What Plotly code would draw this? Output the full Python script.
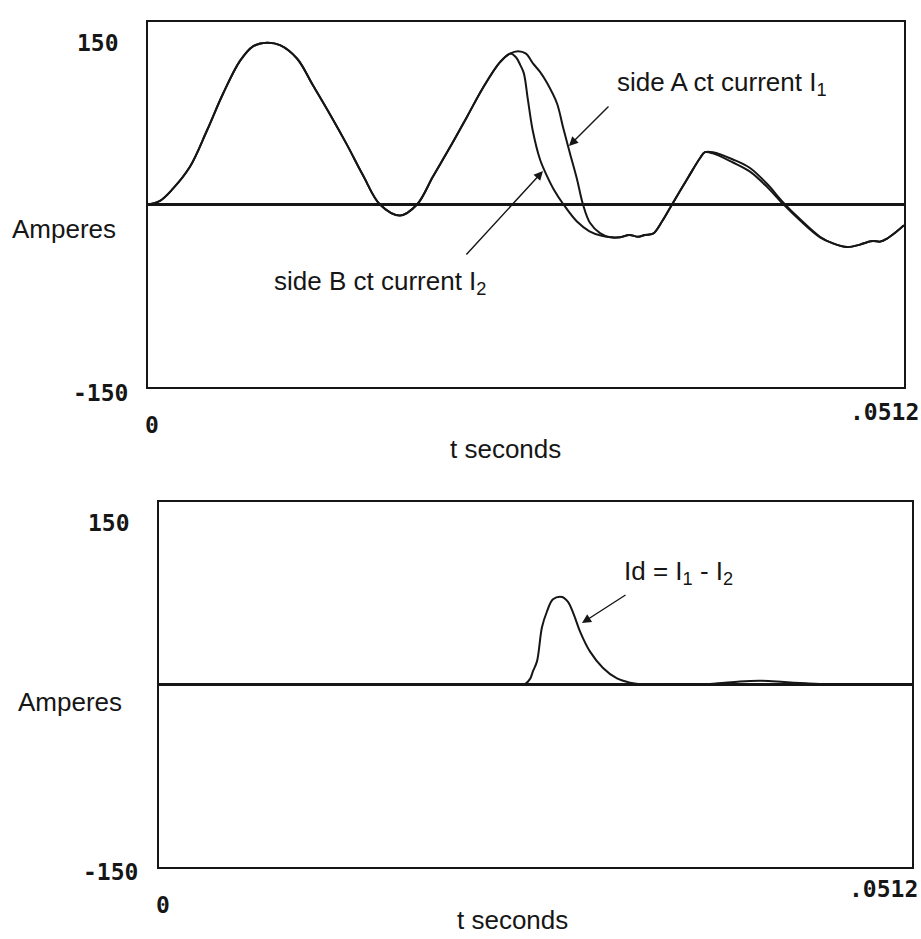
import numpy as np
import plotly.graph_objects as go

W, H = 921, 939

# ---------------- data (time in ms, current in A) ----------------
# part shared by both CT currents (before saturation of side B)
t_shared = [0, 0.81, 1.69, 2.84, 4.00, 5.08, 6.23, 7.11, 8.06, 8.94, 10.09, 11.17,
            12.33, 13.48, 14.56, 15.71, 17.07, 18.22, 19.30, 20.45, 21.60, 22.69,
            23.84, 24.52]
i_shared = [0, 3, 13, 31, 61, 91, 118, 130, 133, 131, 120, 98,
            74, 49, 24, 0, -9, 0, 23, 47, 72, 96,
            117, 124]

# side A (I1) second peak and fall
t_a_fall = [25.06, 25.6, 26.07, 26.55, 27.02, 27.70, 28.10, 28.58, 29.05, 29.46,
            29.93, 30.61, 31.29]
i_a_fall = [126, 124, 116, 109, 100, 83, 64, 42, 21, 0,
            -15, -23.5, -27]

# side B (I2) saturated fall
t_b_fall = [24.92, 25.2, 25.45, 25.73, 26.07, 26.55, 27.0, 27.5, 28.2, 29.05,
            29.9, 30.8, 31.5]
i_b_fall = [121, 115, 108, 86, 60, 37, 24, 12, -1, -14,
            -22, -26, -27]

# shared trough and third rise
t_trough = [31.96, 32.6, 33.2, 33.66, 34.2, 34.81, 35.49, 36.57, 37.38, 37.72]
i_trough = [-27, -25, -26.5, -25, -24, -14, 0, 22, 38, 43]

# third hump decline
t_hump = [38.26, 39.62, 40.77, 41.92, 43.0, 44.15, 45.51]
i_a_hump = [43, 37, 30, 17, 2, -12, -26.5]
i_b_hump = [42, 34.5, 27, 14.5, 0.5, -13, -27]

# shared tail
t_tail = [46.39, 47.34, 48.22, 48.7, 49.1, 49.6, 50.05, 50.72, 51.2]
i_tail = [-32, -35, -33, -31, -30, -30.5, -28, -22, -17]

# differential current Id = I1 - I2 (lower plot)
t_id = [0, 8, 16, 22, 24.5, 24.9, 25.23, 25.43, 25.70, 26.04, 26.38, 26.79, 27.40,
        27.81, 28.22, 28.63, 29.31, 30.19, 31.14, 32.03, 32.7, 34.0, 36.5, 38.0,
        39.5, 41.0, 42.5, 44.0, 45.5, 47.0, 49.0, 51.2]
i_id = [0, 0, 0, 0, 0, 0.5, 4.6, 11, 19, 47, 60, 70, 72,
        68, 57, 43.5, 27, 13.6, 5, 1.5, 0.3, 0, 0, 1,
        2.5, 3, 2, 1, 0.3, 0.3, 0.3, 0.3]

t_end = 0.0512
y_labels = ["150", "-150"]
x_labels = ["0", ".0512"]

# ---------------- assemble series ----------------
t1 = np.array(t_shared + t_a_fall + t_trough + t_hump + t_tail) / 1000.0
i1 = np.array(i_shared + i_a_fall + i_trough + i_a_hump + i_tail)
t2 = np.array(t_shared + t_b_fall + t_trough + t_hump + t_tail) / 1000.0
i2 = np.array(i_shared + i_b_fall + i_trough + i_b_hump + i_tail)
td = np.array(t_id) / 1000.0
idf = np.array(i_id)

INK = "#161616"
TXT = "Liberation Sans, Arial, Helvetica, sans-serif"
NUM = "DejaVu Sans Mono, monospace"

def px(x):
    return x / W

def py(y):
    return 1 - y / H

fig = go.Figure()
line = dict(color=INK, width=2, shape="spline", smoothing=1.0)
fig.add_trace(go.Scatter(x=t1, y=i1, mode="lines", line=line, xaxis="x", yaxis="y",
                         name="side A ct current I1", hoverinfo="skip"))
fig.add_trace(go.Scatter(x=t2, y=i2, mode="lines", line=line, xaxis="x", yaxis="y",
                         name="side B ct current I2", hoverinfo="skip"))
fig.add_trace(go.Scatter(x=td, y=idf, mode="lines", line=line, xaxis="x2", yaxis="y2",
                         name="Id", hoverinfo="skip"))

ax_common = dict(showline=True, mirror=True, linecolor=INK, linewidth=2,
                 showgrid=False, showticklabels=False, ticks="", zeroline=False)
yax_common = dict(ax_common, range=[-150, 150], zeroline=True,
                  zerolinecolor=INK, zerolinewidth=2.5)

fig.update_layout(
    width=W, height=H,
    margin=dict(l=0, r=0, t=0, b=0),
    paper_bgcolor="white", plot_bgcolor="white",
    showlegend=False,
    xaxis=dict(ax_common, range=[0, t_end], domain=[px(148), px(904)], anchor="y"),
    yaxis=dict(yax_common, domain=[py(387), py(22)], anchor="x"),
    xaxis2=dict(ax_common, range=[0, t_end], domain=[px(159), px(912)], anchor="y2"),
    yaxis2=dict(yax_common, domain=[py(867), py(502)], anchor="x2"),
)

anns = []

def label(x, y, text, font, size, weight="normal"):
    anns.append(dict(x=px(x), y=py(y), xref="paper", yref="paper", text=text,
                     showarrow=False, xanchor="center", yanchor="middle",
                     font=dict(family=font, size=size, color=INK, weight=weight)))

def arrow(hx, hy, tx, ty):
    anns.append(dict(x=px(hx), y=py(hy), xref="paper", yref="paper", text="",
                     showarrow=True, ax=tx - hx, ay=ty - hy, arrowhead=2,
                     arrowsize=1.3, arrowwidth=1.4, arrowcolor=INK, standoff=0))

# upper panel
label(98, 43, y_labels[0], NUM, 23, "bold")
label(100, 393, y_labels[1], NUM, 23, "bold")
label(64, 229, "Amperes", TXT, 26)
label(152, 425, x_labels[0], NUM, 23, "bold")
label(884, 412, x_labels[1], NUM, 23, "bold")
label(505, 449, "t seconds", TXT, 26)
label(722, 83, "side A ct current I<sub>1</sub>", TXT, 26)
label(380, 283, "side B ct current I<sub>2</sub>", TXT, 26)
arrow(569, 146, 610, 105)
arrow(543, 171, 465, 256)

# lower panel
label(109, 523, y_labels[0], NUM, 23, "bold")
label(110, 872, y_labels[1], NUM, 23, "bold")
label(70, 702, "Amperes", TXT, 26)
label(163, 905, x_labels[0], NUM, 23, "bold")
label(883, 889, x_labels[1], NUM, 23, "bold")
label(512, 920, "t seconds", TXT, 26)
label(678, 572, "Id = I<sub>1</sub> - I<sub>2</sub>", TXT, 26)
arrow(582, 623, 627, 594)

fig.update_layout(annotations=anns)
fig.write_html("out.html")
